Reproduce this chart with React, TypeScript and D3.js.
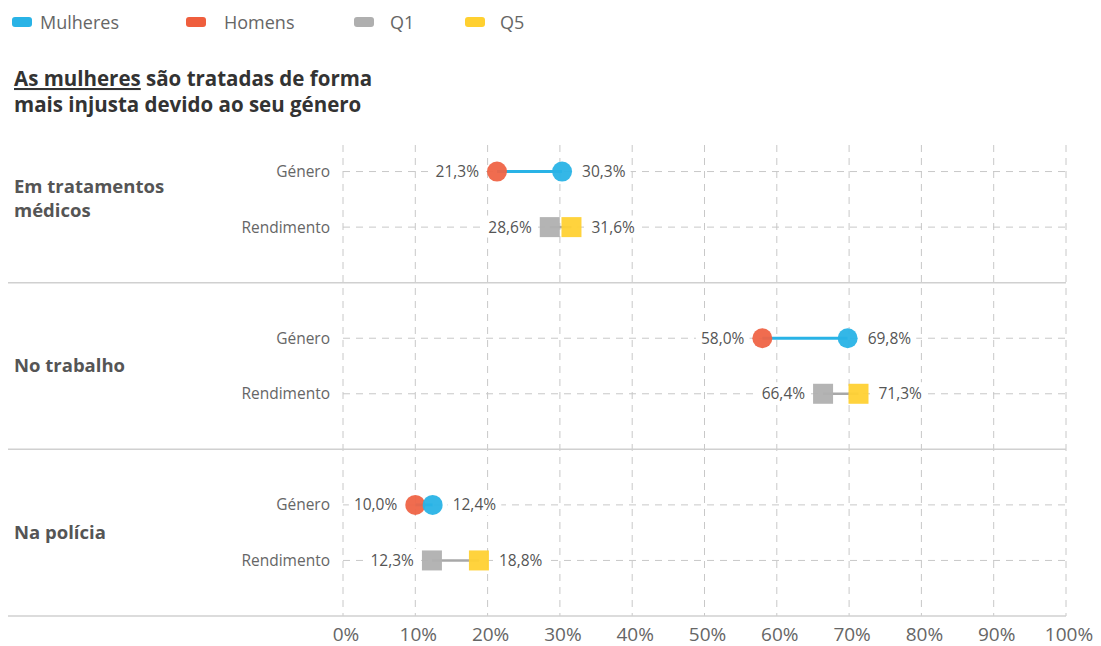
import { useEffect, useRef } from 'react';
import * as d3 from 'd3';

// Data
const groups = ['Em tratamentos médicos', 'No trabalho', 'Na polícia'];
const groupLines = [['Em tratamentos', 'médicos'], ['No trabalho'], ['Na polícia']];
const rows = ['Género', 'Rendimento'];
const homens = [21.3, 58.0, 10.0];
const mulheres = [30.3, 69.8, 12.4];
const q1 = [28.6, 66.4, 12.3];
const q5 = [31.6, 71.3, 18.8];
const ticks = [0, 10, 20, 30, 40, 50, 60, 70, 80, 90, 100];

const legendItems = [
  { label: 'Mulheres', color: '#29B3E6' },
  { label: 'Homens', color: '#EF5E3D' },
  { label: 'Q1', color: '#AFAFAF' },
  { label: 'Q5', color: '#FFD030' },
];

const COLORS = {
  mulheres: '#29B3E6',
  homens: '#EF6446',
  q1: '#B0B0B0',
  q5: '#FFD133',
  grid: '#C8C8C8',
  text: '#555',
};

const W = 1101;
const H = 646;
const FONT = '"Open Sans", sans-serif';

const fmt = (v: number) => v.toFixed(1).replace('.', ',') + '%';

export default function App() {
  const svgRef = useRef<SVGSVGElement>(null);

  useEffect(() => {
    if (!svgRef.current) return;
    const svg = d3.select(svgRef.current);
    svg.selectAll('*').remove();

    const x = d3.scaleLinear().domain([0, 100]).range([343, 1066]);
    const yGroup = d3.scaleBand<string>().domain(groups).range([116, 616]);
    const yRow = d3
      .scalePoint<string>()
      .domain(rows)
      .range([0, yGroup.bandwidth()])
      .padding(1);
    const gridTop = 145;

    // Legend
    const legend = svg.append('g').attr('font-family', FONT);
    const legendX = [12, 186, 354, 465];
    const legendTextX = [40, 224, 390, 500];
    legendItems.forEach((d, i) => {
      legend
        .append('rect')
        .attr('x', legendX[i])
        .attr('y', 17)
        .attr('width', 20)
        .attr('height', 10)
        .attr('rx', 3)
        .attr('fill', d.color);
      legend
        .append('text')
        .attr('x', legendTextX[i])
        .attr('y', 29)
        .attr('font-size', 18)
        .attr('fill', '#666')
        .text(d.label);
    });

    // Subtitle (two lines, first words underlined)
    const sub1 = svg
      .append('text')
      .attr('x', 14)
      .attr('y', 86)
      .attr('font-family', FONT)
      .attr('font-weight', 'bold')
      .attr('font-size', 20.5)
      .attr('fill', '#333');
    sub1.append('tspan').attr('text-decoration', 'underline').text('As mulheres');
    sub1.append('tspan').text(' são tratadas de forma');
    svg
      .append('text')
      .attr('x', 14)
      .attr('y', 112)
      .attr('font-family', FONT)
      .attr('font-weight', 'bold')
      .attr('font-size', 20.5)
      .attr('fill', '#333')
      .text('mais injusta devido ao seu género');

    // Vertical dashed gridlines
    svg
      .append('g')
      .selectAll('line')
      .data(ticks)
      .join('line')
      .attr('x1', (d) => x(d))
      .attr('x2', (d) => x(d))
      .attr('y1', gridTop)
      .attr('y2', 616)
      .attr('stroke', COLORS.grid)
      .attr('stroke-dasharray', '7,6');

    // Group separators + bottom axis line
    const seps = groups.slice(1).map((g) => yGroup(g)!).concat([616]);
    svg
      .append('g')
      .selectAll('line')
      .data(seps)
      .join('line')
      .attr('x1', 8)
      .attr('x2', x(100))
      .attr('y1', (d) => d)
      .attr('y2', (d) => d)
      .attr('stroke', '#D0D0D0')
      .attr('stroke-width', 1.5);

    // X tick labels
    svg
      .append('g')
      .selectAll('text')
      .data(ticks)
      .join('text')
      .attr('x', (d) => x(d) + 3)
      .attr('y', 641)
      .attr('text-anchor', 'middle')
      .attr('font-family', FONT)
      .attr('font-size', 19)
      .attr('fill', '#666')
      .text((d) => `${d}%`);

    groups.forEach((g, gi) => {
      const g0 = yGroup(g)!;
      const gc = g0 + yGroup.bandwidth() / 2;

      // Group label
      const lines = groupLines[gi];
      const lineH = 24;
      lines.forEach((ln, li) => {
        svg
          .append('text')
          .attr('x', 14)
          .attr('y', gc - ((lines.length - 1) * lineH) / 2 + li * lineH + 6)
          .attr('font-family', FONT)
          .attr('font-weight', 'bold')
          .attr('font-size', 18.5)
          .attr('fill', '#555')
          .text(ln);
      });

      rows.forEach((r) => {
        const yy = g0 + yRow(r)!;
        svg
          .append('line')
          .attr('x1', x(0))
          .attr('x2', x(100))
          .attr('y1', yy)
          .attr('y2', yy)
          .attr('stroke', COLORS.grid)
          .attr('stroke-dasharray', '7,6');
        svg
          .append('text')
          .attr('x', 330)
          .attr('y', yy)
          .attr('dy', '0.35em')
          .attr('text-anchor', 'end')
          .attr('font-family', FONT)
          .attr('font-size', 15.5)
          .attr('fill', '#666')
          .text(r);

        const isGender = r === 'Género';
        const lo = isGender ? homens[gi] : q1[gi];
        const hi = isGender ? mulheres[gi] : q5[gi];
        const loColor = isGender ? COLORS.homens : COLORS.q1;
        const hiColor = isGender ? COLORS.mulheres : COLORS.q5;

        // Value labels with white background
        const addLabel = (v: number, side: 'left' | 'right') => {
          const tx = side === 'left' ? x(v) - 18 : x(v) + 20;
          const t = svg
            .append('text')
            .attr('x', tx)
            .attr('y', yy)
            .attr('dy', '0.35em')
            .attr('text-anchor', side === 'left' ? 'end' : 'start')
            .attr('font-family', FONT)
            .attr('font-size', 15.5)
            .attr('fill', COLORS.text)
            .text(fmt(v));
          const bb = (t.node() as SVGTextElement).getBBox();
          svg
            .insert('rect', () => t.node() as SVGTextElement)
            .attr('x', bb.x - 5)
            .attr('y', bb.y)
            .attr('width', bb.width + 10)
            .attr('height', bb.height)
            .attr('fill', '#fff');
        };
        addLabel(lo, 'left');
        addLabel(hi, 'right');

        svg
          .append('line')
          .attr('x1', x(lo))
          .attr('x2', x(hi))
          .attr('y1', yy)
          .attr('y2', yy)
          .attr('stroke', isGender ? COLORS.mulheres : '#A8A8A8')
          .attr('stroke-width', isGender ? 3 : 2.5);

        if (isGender) {
          svg
            .append('circle')
            .attr('cx', x(lo))
            .attr('cy', yy)
            .attr('r', 10)
            .attr('fill', loColor)
            .attr('fill-opacity', 0.95);
          svg
            .append('circle')
            .attr('cx', x(hi))
            .attr('cy', yy)
            .attr('r', 10)
            .attr('fill', hiColor)
            .attr('fill-opacity', 0.95);
        } else {
          [
            [lo, loColor],
            [hi, hiColor],
          ].forEach(([v, c]) => {
            svg
              .append('rect')
              .attr('x', x(v as number) - 10)
              .attr('y', yy - 10)
              .attr('width', 20)
              .attr('height', 20)
              .attr('fill', c as string)
              .attr('fill-opacity', 0.95);
          });
        }
      });
    });
  }, []);

  return (
    <svg
      ref={svgRef}
      width={W}
      height={H}
      style={{ position: 'absolute', left: 0, top: 0, background: '#fff' }}
    />
  );
}
